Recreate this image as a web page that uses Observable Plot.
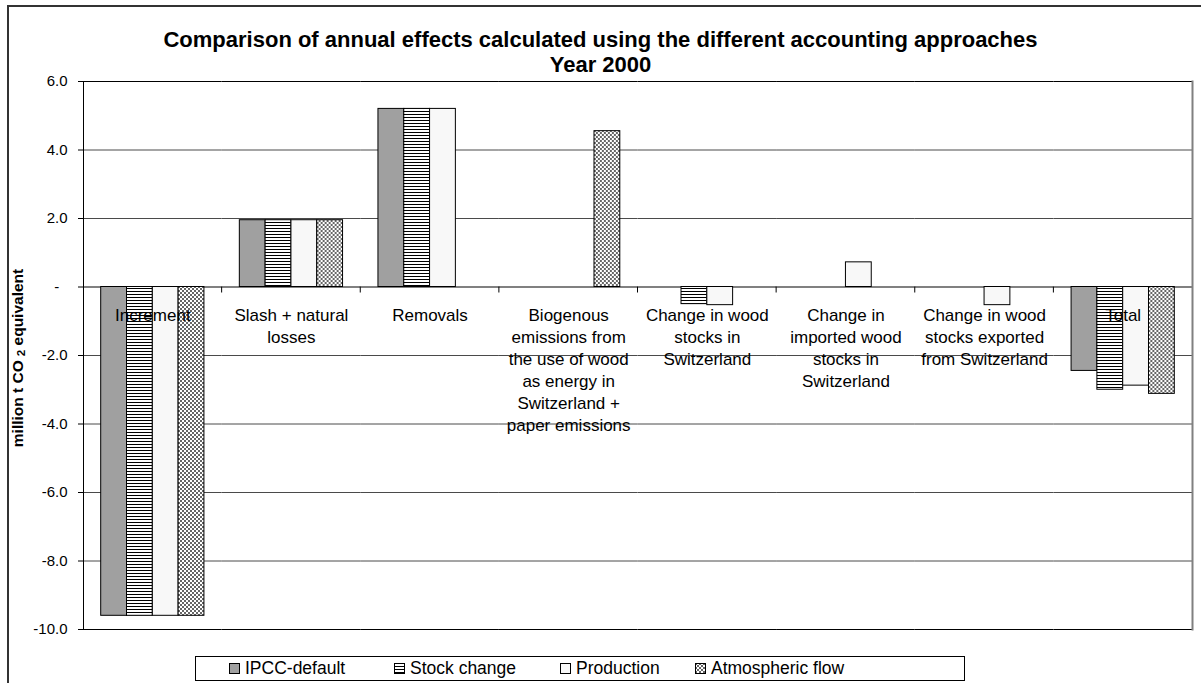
<!DOCTYPE html>
<html>
<head>
<meta charset="utf-8">
<script src="https://cdn.jsdelivr.net/npm/d3@7"></script>
<script src="https://cdn.jsdelivr.net/npm/@observablehq/plot@0.6"></script>
<style>
  html, body { margin: 0; padding: 0; background: #fff; }
  #page {
    position: relative; width: 1201px; height: 683px; overflow: hidden;
    font-family: "Liberation Sans", Arial, sans-serif; color: #000;
  }
  #outer {
    position: absolute; left: 7px; top: 5px; width: 1300px; height: 800px;
    border: 2px solid #333; box-sizing: border-box;
  }
  #title {
    position: absolute; left: 0; top: 27px; width: 1201px; text-align: center;
    font-weight: bold; font-size: 22px; line-height: 25px;
  }
  #ylabel {
    position: absolute; left: 18px; top: 358px; white-space: nowrap;
    transform: translate(-50%, -50%) rotate(-90deg);
    font-weight: bold; font-size: 15.5px;
  }
  #ylabel sub { font-size: 0.75em; vertical-align: -0.15em; margin-left: 4px; }
  #chart { position: absolute; left: 0; top: 0; }
  #legend {
    position: absolute; left: 195px; top: 656px; width: 770px; height: 25px;
    border: 1px solid #000; box-sizing: border-box; background: #fff;
  }
  .item { position: absolute; top: 0; height: 23px; display: flex; align-items: center; font-size: 17.5px; white-space: nowrap; }
</style>
</head>
<body>
<svg width="0" height="0" style="position:absolute">
  <defs>
    <pattern id="hstripes" width="4" height="3" patternUnits="userSpaceOnUse">
      <rect width="4" height="3" fill="#fff"></rect>
      <rect width="4" height="1" fill="#000"></rect>
    </pattern>
    <pattern id="checker" width="4" height="4" patternUnits="userSpaceOnUse">
      <rect width="4" height="4" fill="#fff"></rect>
      <rect width="2" height="2" fill="#666"></rect>
      <rect x="2" y="2" width="2" height="2" fill="#666"></rect>
    </pattern>
  </defs>
</svg>
<div id="page">
  <div id="outer"></div>
  <div id="title">Comparison of annual effects calculated using the different accounting approaches<br>Year 2000</div>
  <div id="chart"></div>
  <div id="ylabel">million t CO<sub>2</sub> equivalent</div>
  <div id="legend"></div>
</div>
<script>
// Accounting components (x groups) and their wrapped labels
const categories = [
  "Increment",
  "Slash + natural losses",
  "Removals",
  "Biogenous emissions",
  "Change in wood stocks in Switzerland",
  "Change in imported wood stocks",
  "Change in exported wood stocks",
  "Total"
];
const categoryLabels = [
  "Increment",
  "Slash + natural\nlosses",
  "Removals",
  "Biogenous\nemissions from\nthe use of wood\nas energy in\nSwitzerland +\npaper emissions",
  "Change in wood\nstocks in\nSwitzerland",
  "Change in\nimported wood\nstocks in\nSwitzerland",
  "Change in wood\nstocks exported\nfrom Switzerland",
  "Total"
];

// Accounting approaches
const series = ["IPCC-default", "Stock change", "Production", "Atmospheric flow"];
const seriesFills = ["#a0a0a0", "url(#hstripes)", "#f8f8f8", "url(#checker)"];

// Annual effects, million t CO2 equivalent (one value per category)
const ipccDefault     = [-9.6, 1.95, 5.2, 0,    0,     0,    0,     -2.45];
const stockChange     = [-9.6, 1.95, 5.2, 0,    -0.5,  0,    0,     -3.0];
const production      = [-9.6, 1.95, 5.2, 0,    -0.53, 0.72, -0.53, -2.88];
const atmosphericFlow = [-9.6, 1.95, 0,   4.55, 0,     0,    0,     -3.12];

// Y axis ticks
const yTicks = [6, 4, 2, 0, -2, -4, -6, -8, -10];

const seriesValues = [ipccDefault, stockChange, production, atmosphericFlow];
const rows = categories.flatMap((c, i) =>
  series.map((s, j) => ({category: c, series: s, value: seriesValues[j][i]}))
).filter(d => d.value !== 0);
const labelRows = categories.map((c, i) => ({category: c, label: categoryLabels[i]}));

const chart = Plot.plot({
  width: 1201,
  height: 683,
  marginLeft: 83,
  marginRight: 9,
  marginTop: 81,
  marginBottom: 54,
  style: {fontFamily: "'Liberation Sans', Arial, sans-serif", fontSize: "15px", color: "#000", background: "transparent"},
  fx: {domain: categories, padding: 0, round: false, axis: null},
  x: {domain: series, paddingInner: 0, paddingOuter: 0.686, round: false, axis: null},
  y: {
    domain: [-10, 6],
    ticks: yTicks,
    tickSize: 5,
    tickPadding: 11,
    tickFormat: d => d === 0 ? "-\u00a0\u00a0" : d.toFixed(1),
    label: null
  },
  color: {type: "ordinal", domain: series, range: seriesFills},
  marks: [
    Plot.ruleY(yTicks.filter(t => t !== 0 && t !== 6 && t !== -10), {stroke: "#4a4a4a"}),
    Plot.ruleY([6, -10], {stroke: "#000"}),
    Plot.ruleY([0], {stroke: "#808080", strokeWidth: 2}),
    Plot.frame({anchor: "left", facetAnchor: "left", stroke: "#000"}),
    Plot.frame({anchor: "right", facetAnchor: "right", stroke: "#808080", strokeWidth: 2}),
    Plot.barY(rows, {fx: "category", x: "series", y: "value", fill: "series", stroke: "#000", strokeWidth: 1}),
    Plot.text(labelRows, {
      fx: "category", y: () => 0, text: "label",
      lineAnchor: "top", dy: 18, fontSize: 17, lineHeight: 22 / 17, fill: "#000"
    })
  ]
});

// Short ticks below the zero line at each group boundary, placed with the plot's own scales
const fxScale = chart.scale("fx");
const yScale = chart.scale("y");
d3.select(chart).append("g")
  .attr("stroke", "#000")
  .selectAll("line")
  .data(categories.slice(1))
  .join("line")
  .attr("x1", c => fxScale.apply(c))
  .attr("x2", c => fxScale.apply(c))
  .attr("y1", yScale.apply(0))
  .attr("y2", yScale.apply(0) + 6);

document.getElementById("chart").append(chart);

// Legend built from the same colour scale
const color = chart.scale("color");
const legendLefts = [33, 198, 364, 499];
const legend = document.getElementById("legend");
series.forEach((s, i) => {
  const item = document.createElement("div");
  item.className = "item";
  item.style.left = legendLefts[i] + "px";
  const sw = document.createElementNS("http://www.w3.org/2000/svg", "svg");
  sw.setAttribute("width", 11);
  sw.setAttribute("height", 11);
  sw.style.marginRight = "5px";
  const r = document.createElementNS("http://www.w3.org/2000/svg", "rect");
  r.setAttribute("x", 0.5); r.setAttribute("y", 0.5);
  r.setAttribute("width", 10); r.setAttribute("height", 10);
  r.setAttribute("fill", color.apply(s));
  r.setAttribute("stroke", "#000");
  sw.append(r);
  const t = document.createElement("span");
  t.textContent = s;
  item.append(sw, t);
  legend.append(item);
});
</script>
</body>
</html>
